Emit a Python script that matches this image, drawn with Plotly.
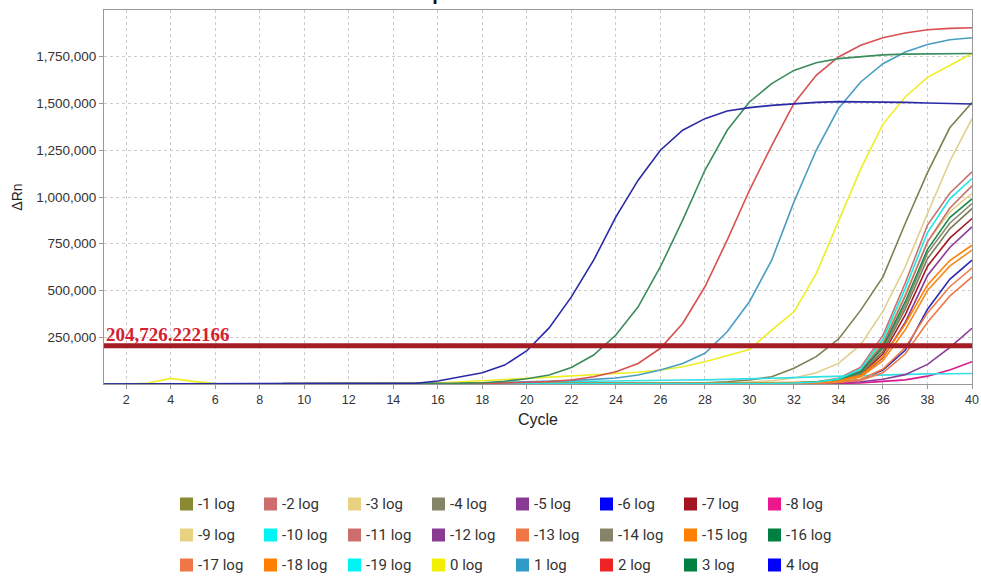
import plotly.graph_objects as go

# ---------------- data (ΔRn values in thousands, cycles 1..40) ----------------
cycles = list(range(1, 41))
threshold = 204726.222166
threshold_label = "204,726.222166"

labels = ["-1 log", "-2 log", "-3 log", "-4 log", "-5 log", "-6 log", "-7 log", "-8 log",
          "-9 log", "-10 log", "-11 log", "-12 log", "-13 log", "-14 log", "-15 log", "-16 log",
          "-17 log", "-18 log", "-19 log", "0 log", "1 log", "2 log", "3 log", "4 log"]

neg1 = [0,0,0,0,0,0,0,0,0,0, 0,0,0,0,0,0,0,0,0,0, 0,0,0,1,1,2,4,7,12,21, 39,84,146,240,395,573,858,1130,1370,1505]
neg2 = [0,0,0,0,0,0,0,0,0,0, 0,0,0,0,0,0,0,0,0,0, 0,0,0,0,1,1,1,1,2,2, 3,6,12,30,90,260,540,850,1020,1134]
neg3 = [0,0,0,0,0,0,0,0,0,0, 0,0,0,0,0,0,0,0,0,0, 0,0,0,0,1,1,2,3,5,9, 17,32,60,110,210,390,627,912,1190,1419]
neg4 = [0,0,0,0,0,0,0,0,0,0, 0,0,0,0,0,0,0,0,0,0, 0,0,0,0,0,1,1,1,1,2, 3,5,10,22,60,190,420,700,860,965]
neg5 = [0,0,0,0,0,0,0,0,0,0, 0,0,0,0,0,0,0,0,0,0, 0,0,0,0,0,0,1,1,1,1, 2,3,7,15,42,140,330,580,730,840]
neg6 = [0,0,0,0,0,0,0,0,0,0, 0,0,0,0,0,0,0,0,0,0, 0,0,0,0,0,0,0,1,1,1, 1,2,4,9,24,75,180,400,560,662]
neg7 = [0,0,0,0,0,0,0,0,0,0, 0,0,0,0,0,0,0,0,0,0, 0,0,0,0,0,1,1,1,2,2, 3,4,8,18,50,160,370,630,780,885]
neg8 = [0,0,0,0,0,0,0,0,0,0, 0,0,0,0,0,0,0,0,0,0, 0,0,0,0,0,0,0,0,0,0, 0,0,1,3,6,12,22,42,75,119]
neg9 = [0,0,0,0,0,0,0,0,0,0, 0,0,0,0,0,0,0,0,0,0, 0,0,0,0,0,1,1,1,2,2, 3,5,11,26,75,230,480,760,920,1020]
neg10 = [0,0,0,0,0,0,0,0,0,0, 0,0,0,0,0,2,4,6,8,10, 12,14,16,18,19,20,21,22,24,27, 30,34,38,42,46,50,52,54,55,56]
neg11 = [0,0,0,0,0,0,0,0,0,0, 0,0,0,0,0,0,0,0,0,0, 0,0,0,0,0,1,1,1,2,2, 3,5,10,24,70,215,470,760,940,1060]
neg12 = [0,0,0,0,0,0,0,0,0,0, 0,0,0,0,0,0,0,0,0,0, 0,0,0,0,0,0,0,0,0,0, 1,2,3,6,12,25,50,105,195,298]
neg13 = [0,0,0,0,0,0,0,0,0,0, 0,0,0,0,0,0,0,0,0,0, 0,0,0,0,0,0,0,0,1,1, 1,2,4,8,20,60,160,330,470,573]
neg14 = [0,0,0,0,0,0,0,0,0,0, 0,0,0,0,0,0,0,0,0,0, 0,0,0,0,0,1,1,1,1,2, 3,5,9,20,55,175,400,670,830,938]
neg15 = [0,0,0,0,0,0,0,0,0,0, 0,0,0,0,0,0,0,0,0,0, 0,0,0,0,1,1,2,3,4,5, 6,7,10,18,45,145,320,530,660,742]
neg16 = [0,0,0,0,0,0,0,0,0,0, 0,0,0,0,0,0,0,0,0,0, 0,0,0,0,0,1,1,1,2,2, 3,5,10,24,65,200,440,720,890,990]
neg17 = [0,0,0,0,0,0,0,0,0,0, 0,0,0,0,0,0,0,0,0,0, 0,0,0,0,0,0,1,1,1,1, 2,3,5,10,24,80,195,380,520,620]
neg18 = [0,0,0,0,0,0,0,0,0,0, 0,0,0,0,0,0,0,0,0,0, 0,0,0,0,0,1,1,2,3,4, 5,6,8,14,38,125,290,500,630,716]
neg19 = [0,0,0,0,0,0,0,0,0,0, 0,0,0,0,0,0,0,0,0,0, 0,0,0,0,0,1,1,1,2,2, 3,5,11,26,80,240,510,810,990,1099]
pos0 = [0,0,5,30,14,2,0,0,0,0, 0,0,0,0,2,5,10,18,24,30, 36,42,48,53,63,75,92,119,150,185, 288,386,590,870,1150,1390,1535,1640,1705,1767]
pos1 = [0,0,0,0,0,0,0,0,0,0, 0,0,0,0,0,2,3,5,8,11, 15,19,25,32,48,75,110,164,279,440, 662,974,1250,1473,1615,1713,1775,1816,1841,1852]
pos2 = [0,0,0,0,0,0,0,0,0,0, 0,0,0,0,0,1,2,3,5,8, 13,21,39,66,110,191,324,520,769,1036, 1275,1500,1651,1749,1811,1852,1877,1894,1902,1905]
pos3 = [0,0,0,0,0,0,0,0,0,0, 0,0,0,0,1,2,4,7,15,28, 48,88,155,262,413,627,876,1143,1357,1508, 1606,1677,1718,1740,1752,1760,1764,1766,1767,1767]
pos4 = [0,0,0,0,0,0,0,0,0,0, 0,0,0,1,4,16,36,60,101,178, 300,466,662,894,1090,1250,1357,1419,1460,1478, 1490,1500,1506,1510,1510,1508,1506,1503,1500,1497]

series = [neg1, neg2, neg3, neg4, neg5, neg6, neg7, neg8, neg9, neg10, neg11, neg12,
          neg13, neg14, neg15, neg16, neg17, neg18, neg19, pos0, pos1, pos2, pos3, pos4]

baseline_start, baseline_end = 3, 15

# ---------------- styles ----------------
line_colors = ["#7f7f52", "#c87070", "#e0cf8c", "#8a8a6a", "#8b3a96", "#2b2bb5", "#a01a24", "#d81b8c",
               "#e2d07c", "#33e0e8", "#c87070", "#8b3a96", "#ee7a4a", "#7a7a5c", "#ff8000", "#1a8a4e",
               "#ee7a4a", "#f58a1a", "#1ee6e6", "#eeee22", "#4a9ec2", "#d85050", "#3a8c5c", "#2a2aa8"]
legend_colors = ["#8a8a32", "#cc6e6e", "#e8d282", "#868468", "#8b3a94", "#0000ff", "#a51521", "#ec178c",
                 "#e8d282", "#00f4f4", "#cc6e6e", "#8b3a94", "#ef7645", "#868468", "#ff7f00", "#008040",
                 "#ef7645", "#ff7f00", "#00f4f4", "#f0f000", "#2f9cc8", "#ee2424", "#008040", "#0000ff"]

W, H = 981, 585
ML, MR, MT, MB = 104, 9, 10, 201
PW, PH = W - ML - MR, H - MT - MB

def px_x(p):
    return (p - ML) / PW

def px_y(p):
    return (H - MB - p) / PH

fig = go.Figure()

for i, (name, vals) in enumerate(zip(labels, series)):
    fig.add_trace(go.Scatter(
        x=cycles, y=[v * 1000 for v in vals], mode="lines", name=name,
        line=dict(color=line_colors[i], width=1.6), showlegend=False))

# threshold
fig.add_trace(go.Scatter(x=[cycles[0], cycles[-1]], y=[threshold, threshold], mode="lines",
                         line=dict(color="#a51d24", width=5), showlegend=False, hoverinfo="skip"))

# baseline markers
fig.add_trace(go.Scatter(x=[baseline_start], y=[-17000], mode="markers", cliponaxis=False,
                         marker=dict(symbol="triangle-up", size=14, color="#33bb33",
                                     line=dict(color="#1a8a1a", width=1)),
                         showlegend=False, hoverinfo="skip"))
fig.add_trace(go.Scatter(x=[baseline_end], y=[-17000], mode="markers", cliponaxis=False,
                         marker=dict(symbol="triangle-up", size=14, color="#e03030",
                                     line=dict(color="#b01818", width=1)),
                         showlegend=False, hoverinfo="skip"))

# ---------------- legend: 3 rows x 8 (swatch + label) ----------------
row_y = [504, 535, 565]
col_x0, col_step, sw = 180, 84, 13
shapes = []
annotations = []
for i, name in enumerate(labels):
    r, c = divmod(i, 8)
    x0 = col_x0 + c * col_step
    yc = row_y[r]
    shapes.append(dict(type="rect", xref="paper", yref="paper",
                       x0=px_x(x0), x1=px_x(x0 + sw), y0=px_y(yc + sw / 2), y1=px_y(yc - sw / 2),
                       fillcolor=legend_colors[i], line=dict(width=0)))
    annotations.append(dict(x=px_x(x0 + sw + 3), y=px_y(yc), xref="paper", yref="paper",
                            xanchor="left", yanchor="middle", text=name, showarrow=False,
                            font=dict(family="Roboto, Arial, sans-serif", size=15, color="#333333")))

annotations.append(dict(x=1, y=threshold, xref="x", yref="y", xanchor="left", yanchor="bottom",
                        text=threshold_label, showarrow=False, yshift=-1,
                        font=dict(family="Liberation Serif, Times New Roman, serif", size=19,
                                  color="#d42030", weight="bold")))
annotations.append(dict(x=px_x(485), y=px_y(6), xref="paper", yref="paper", xanchor="center",
                        yanchor="bottom", text="<b>Amplification Plot</b>", showarrow=False,
                        font=dict(family="Liberation Sans, Arial, sans-serif", size=20, color="#111111")))

tick_font_x = dict(family="Liberation Sans, Arial, sans-serif", size=12.5, color="#333333")
tick_font_y = dict(family="Liberation Sans, Arial, sans-serif", size=13.5, color="#333333")

fig.update_layout(
    width=W, height=H,
    margin=dict(l=ML, r=MR, t=MT, b=MB, autoexpand=False),
    paper_bgcolor="white", plot_bgcolor="white",
    showlegend=False,
    xaxis=dict(range=[1, 40], tickvals=list(range(2, 41, 2)), ticks="outside", ticklen=4,
               tickcolor="#999999", showline=True, linecolor="#999999", linewidth=1, mirror=True,
               showgrid=True, gridcolor="#cccccc", griddash="dot", gridwidth=1, zeroline=False,
               tickfont=tick_font_x,
               title=dict(text="Cycle", font=dict(family="Liberation Sans, Arial, sans-serif",
                                                  size=16, color="#222222"), standoff=7)),
    yaxis=dict(range=[0, 2000000], tickvals=[250000, 500000, 750000, 1000000, 1250000, 1500000, 1750000],
               tickformat=",d", ticks="outside", ticklen=4, tickcolor="#999999",
               showline=True, linecolor="#999999", linewidth=1, mirror=True,
               showgrid=True, gridcolor="#cccccc", griddash="dot", gridwidth=1, zeroline=False,
               tickfont=tick_font_y,
               title=dict(text="ΔRn", font=dict(family="Liberation Sans, Arial, sans-serif",
                                                size=14, color="#222222"), standoff=10)),
    shapes=shapes,
    annotations=annotations,
)

fig.write_html("out.html", config={"displayModeBar": False},
               post_script="document.body.style.margin='0';")
